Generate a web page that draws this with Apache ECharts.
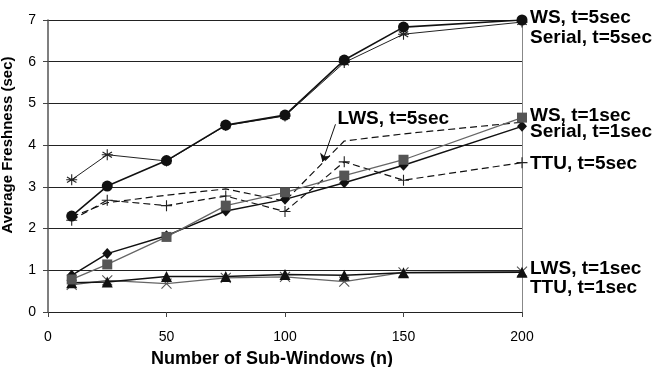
<!DOCTYPE html>
<html>
<head>
<meta charset="utf-8">
<script src="https://cdn.jsdelivr.net/npm/echarts@6/dist/echarts.min.js"></script>
<style>
html,body{margin:0;padding:0;background:#fff;}
#c{width:652px;height:367px;}
</style>
</head>
<body>
<div id="c"></div>
<script>
// ---- data ----
var xValues = [10, 25, 50, 75, 100, 125, 150, 200];
var wsT5     = [2.30, 3.02, 3.63, 4.48, 4.72, 6.04, 6.83, 7.00];
var serialT5 = [3.17, 3.77, 3.62, 4.47, 4.70, 5.98, 6.66, 6.95];
var wsT1     = [0.78, 1.14, 1.80, 2.55, 2.87, 3.27, 3.65, 4.66];
var serialT1 = [0.88, 1.40, 1.83, 2.42, 2.70, 3.10, 3.52, 4.45];
var lwsT5    = [2.28, 2.62, 2.80, 2.95, 2.66, 4.10, 4.27, 4.55];
var ttuT5    = [2.20, 2.68, 2.55, 2.78, 2.41, 3.60, 3.16, 3.58];
var lwsT1    = [0.65, 0.76, 0.68, 0.82, 0.84, 0.73, 0.95, 0.97];
var ttuT1    = [0.70, 0.72, 0.85, 0.85, 0.90, 0.88, 0.94, 0.95];
var seriesNames = ['WS, t=5sec', 'Serial, t=5sec', 'WS, t=1sec', 'Serial, t=1sec',
                   'LWS, t=5sec', 'TTU, t=5sec', 'LWS, t=1sec', 'TTU, t=1sec'];
var xTicks = [0, 50, 100, 150, 200];
var yTicks = [0, 1, 2, 3, 4, 5, 6, 7];
var xTitle = 'Number of Sub-Windows (n)';
var yTitle = 'Average Freshness (sec)';
// annotation anchor (data coords)
var annoText = 'LWS, t=5sec';
var annoTextAt = [122.2, 4.62];
var annoArrowFrom = [121.3, 4.50];
var annoArrowTo = [115.8, 3.60];

function pairs(ys){ return xValues.map(function(x,i){ return [x, ys[i]]; }); }

var FONT = 'Liberation Sans, Arial, Helvetica, sans-serif';
var PLUS = 'path://M5,0L5,10M0,5L10,5';
var CROSS = 'path://M0,0L10,10M10,0L0,10';
var ASTER = 'path://M5,0L5,10M0.7,2.5L9.3,7.5M0.7,7.5L9.3,2.5M0,5L10,5';

function endLbl(dy){
  return {show:true, formatter:'{a}', distance:8, offset:[0,dy],
          fontFamily:FONT, fontSize:19, fontWeight:'bold', color:'#000'};
}
function strokeSym(color){ return {color:'none', borderColor:color, borderWidth:1.1}; }

var chart = echarts.init(document.getElementById('c'), null, {renderer:'canvas'});
var option = {
  animation:false,
  backgroundColor:'#fff',
  grid:{left:48, right:130, top:20, bottom:55, containLabel:false, outerBoundsMode:'none'},
  xAxis:{
    type:'value', min:0, max:200, interval:50,
    name:xTitle, nameLocation:'middle', nameGap:38,
    nameTextStyle:{fontFamily:FONT, fontSize:18, fontWeight:'bold', color:'#000', padding:[0,26,0,0]},
    axisLine:{show:false},
    axisTick:{show:true, length:5, lineStyle:{color:'#444'}},
    axisLabel:{fontFamily:FONT, fontSize:14, color:'#000', margin:18,
      formatter:function(v){ return xTicks.indexOf(v)>=0 ? String(v) : ''; }},
    splitLine:{show:false}
  },
  yAxis:[{
    type:'value', min:0, max:7, interval:1,
    name:yTitle, nameLocation:'middle', nameGap:33, nameRotate:90,
    nameTextStyle:{fontFamily:FONT, fontSize:15, fontWeight:'bold', color:'#000', padding:[0,0,0,42]},
    axisLine:{show:true, lineStyle:{color:'#555', width:1.5}},
    axisTick:{show:true, length:5, lineStyle:{color:'#444'}},
    axisLabel:{fontFamily:FONT, fontSize:14, color:'#000', margin:12,
      formatter:function(v){ return yTicks.indexOf(v)>=0 ? String(v) : ''; }},
    splitLine:{show:true, lineStyle:{color:'#222', width:1}}
  },{
    type:'value', min:0, max:7, interval:1, position:'right',
    axisLine:{show:true, lineStyle:{color:'#888', width:1}},
    axisTick:{show:false}, axisLabel:{show:false}, splitLine:{show:false}
  }],
  series:[
    {name:seriesNames[0], type:'line', data:pairs(wsT5), symbol:'circle', symbolSize:11,
     itemStyle:{color:'#111'}, lineStyle:{color:'#111', width:1.6}, endLabel:endLbl(-2), z:8},
    {name:seriesNames[1], type:'line', data:pairs(serialT5), symbol:ASTER, symbolSize:11,
     itemStyle:strokeSym('#222'), lineStyle:{color:'#222', width:1}, endLabel:endLbl(16), z:7},
    {name:seriesNames[2], type:'line', data:pairs(wsT1), symbol:'rect', symbolSize:10,
     itemStyle:{color:'#555'}, lineStyle:{color:'#666', width:1.3}, endLabel:endLbl(-2), z:6},
    {name:seriesNames[3], type:'line', data:pairs(serialT1), symbol:'diamond', symbolSize:[10,11],
     itemStyle:{color:'#111'}, lineStyle:{color:'#111', width:1.5}, endLabel:endLbl(5), z:5},
    {name:seriesNames[4], type:'line', data:pairs(lwsT5), symbol:'none',
     lineStyle:{color:'#111', width:1.2, type:[7,4]}, z:4,
     markLine:{silent:true, symbol:['none','arrow'], symbolSize:8, label:{show:false},
       lineStyle:{color:'#111', width:1, type:'solid'},
       data:[[{coord:annoArrowFrom}, {coord:annoArrowTo}]]}},
    {name:seriesNames[5], type:'line', data:pairs(ttuT5), symbol:PLUS, symbolSize:11,
     itemStyle:strokeSym('#222'), lineStyle:{color:'#111', width:1.2, type:[7,4]}, endLabel:endLbl(1), z:4},
    {name:seriesNames[6], type:'line', data:pairs(lwsT1), symbol:CROSS, symbolSize:10,
     itemStyle:strokeSym('#555'), lineStyle:{color:'#666', width:1.3}, endLabel:endLbl(-3), z:3},
    {name:seriesNames[7], type:'line', data:pairs(ttuT1), symbol:'triangle', symbolSize:11,
     itemStyle:{color:'#111'}, lineStyle:{color:'#111', width:1.5}, endLabel:endLbl(15), z:3}
  ]
};
chart.setOption(option);
var p = chart.convertToPixel({gridIndex:0}, annoTextAt);
chart.setOption({graphic:[{type:'text', left:p[0], top:p[1]-10, z:20,
  style:{text:annoText, fontFamily:FONT, fontSize:19, fontWeight:'bold', fill:'#000'}}]});
</script>
</body>
</html>
